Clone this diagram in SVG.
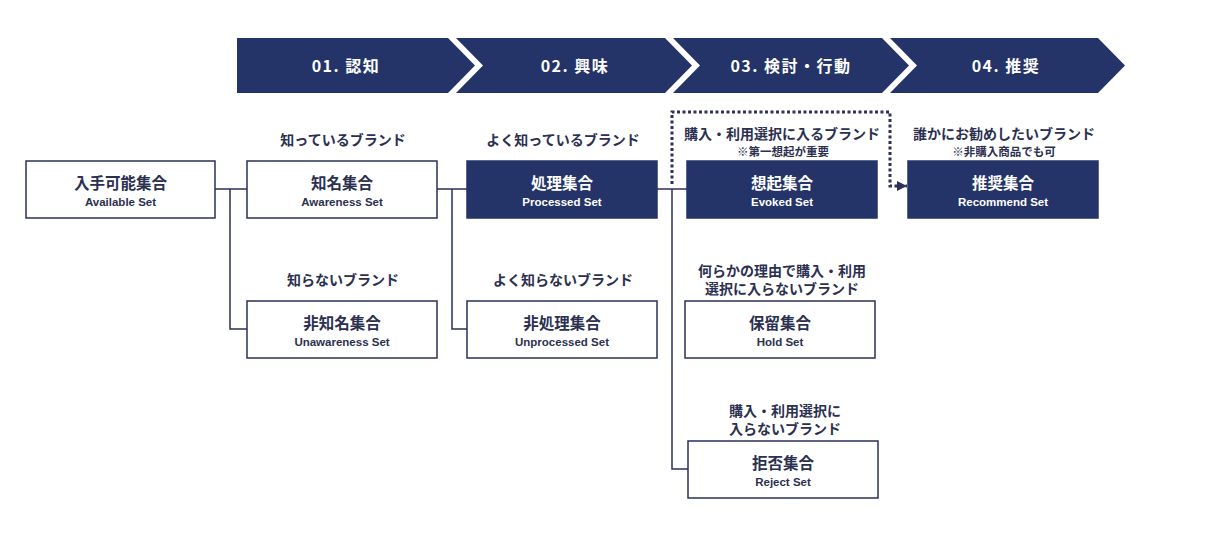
<svg xmlns="http://www.w3.org/2000/svg" width="1230" height="560" viewBox="0 0 1230 560">
<style>
.chev{fill:#243469}
.stage{font-family:"Noto Sans CJK JP","Noto Sans",sans-serif;font-size:16px;font-weight:700;fill:#fff;letter-spacing:1.5px;text-anchor:middle}
.box{fill:#fff;stroke:#2b3158;stroke-width:1.5}
.boxd{fill:#243469;stroke:#243469;stroke-width:1.5}
.jp{font-family:"Noto Sans CJK JP",sans-serif;font-size:15.5px;font-weight:700;fill:#2b3050;text-anchor:middle}
.en{font-family:"Liberation Sans",Arial,sans-serif;font-size:11.5px;font-weight:700;fill:#2b3050;text-anchor:middle}
.boxd-t .jp,.boxd-t .en{fill:#fff}
.lbl{font-family:"Noto Sans CJK JP",sans-serif;font-size:14px;font-weight:700;fill:#2b3050;text-anchor:middle}
.note{font-family:"Noto Sans CJK JP",sans-serif;font-size:11.5px;font-weight:700;fill:#2b3050;text-anchor:middle}
.ln{fill:none;stroke:#2b3158;stroke-width:1.5}
.dot{fill:none;stroke:#2b3158;stroke-width:3;stroke-dasharray:3 2.5}
</style>
<defs>
<marker id="arr" viewBox="0 0 10 10" refX="10" refY="5" markerWidth="10" markerHeight="10" markerUnits="userSpaceOnUse" orient="auto">
<path d="M0,0 L10,5 L0,10 Z" fill="#2b3158"/>
</marker>
</defs>

<g id="stages">
<polygon class="chev" points="237,38 448,38 475,65.5 448,93 237,93"/>
<polygon class="chev" points="456,38 665,38 692,65.5 665,93 456,93 483,65.5"/>
<polygon class="chev" points="673,38 882,38 909,65.5 882,93 673,93 700,65.5"/>
<polygon class="chev" points="890,38 1098,38 1125,65.5 1098,93 890,93 917,65.5"/>
<text class="stage" x="346" y="72">01. 認知</text>
<text class="stage" x="575" y="72">02. 興味</text>
<text class="stage" x="791" y="72">03. 検討・行動</text>
<text class="stage" x="1006" y="72">04. 推奨</text>
</g>

<g id="connectors">
<path class="ln" d="M215,189 H247 M230,189 V329 H247"/>
<path class="ln" d="M437,189 H467 M452,189 V329 H467"/>
<path class="ln" d="M657,189 H687 M672,189 V469 H688"/>
<path class="dot" d="M672,184 V112 H890 V186 H907" marker-end="url(#arr)"/>
</g>

<g id="available">
<rect class="box" x="26" y="161" width="189" height="57"/>
<text class="jp" x="120.5" y="189">入手可能集合</text>
<text class="en" x="120.5" y="206">Available Set</text>
</g>
<g id="awareness">
<text class="lbl" x="343" y="145">知っているブランド</text>
<rect class="box" x="247" y="161" width="190" height="57"/>
<text class="jp" x="342" y="189">知名集合</text>
<text class="en" x="342" y="206">Awareness Set</text>
</g>
<g id="processed" class="boxd-t">
<text class="lbl" x="563" y="145">よく知っているブランド</text>
<rect class="boxd" x="467" y="161" width="190" height="57"/>
<text class="jp" x="562" y="189">処理集合</text>
<text class="en" x="562" y="206">Processed Set</text>
</g>
<g id="evoked" class="boxd-t">
<text class="lbl" x="782" y="139">購入・利用選択に入るブランド</text>
<text class="note" x="783" y="156">※第一想起が重要</text>
<rect class="boxd" x="687" y="161" width="190" height="57"/>
<text class="jp" x="782" y="189">想起集合</text>
<text class="en" x="782" y="206">Evoked Set</text>
</g>
<g id="recommend" class="boxd-t">
<text class="lbl" x="1004" y="139">誰かにお勧めしたいブランド</text>
<text class="note" x="1004" y="156">※非購入商品でも可</text>
<rect class="boxd" x="908" y="161" width="190" height="57"/>
<text class="jp" x="1003" y="189">推奨集合</text>
<text class="en" x="1003" y="206">Recommend Set</text>
</g>
<g id="unawareness">
<text class="lbl" x="343" y="285">知らないブランド</text>
<rect class="box" x="247" y="301" width="190" height="57"/>
<text class="jp" x="342" y="329">非知名集合</text>
<text class="en" x="342" y="346">Unawareness Set</text>
</g>
<g id="unprocessed">
<text class="lbl" x="563" y="285">よく知らないブランド</text>
<rect class="box" x="467" y="301" width="190" height="57"/>
<text class="jp" x="562" y="329">非処理集合</text>
<text class="en" x="562" y="346">Unprocessed Set</text>
</g>
<g id="hold">
<text class="lbl" x="782" y="276">何らかの理由で購入・利用</text>
<text class="lbl" x="782" y="294">選択に入らないブランド</text>
<rect class="box" x="685" y="301" width="190" height="57"/>
<text class="jp" x="780" y="329">保留集合</text>
<text class="en" x="780" y="346">Hold Set</text>
</g>
<g id="reject">
<text class="lbl" x="785" y="416">購入・利用選択に</text>
<text class="lbl" x="785" y="434">入らないブランド</text>
<rect class="box" x="688" y="441" width="190" height="57"/>
<text class="jp" x="783" y="469">拒否集合</text>
<text class="en" x="783" y="486">Reject Set</text>
</g>
</svg>
